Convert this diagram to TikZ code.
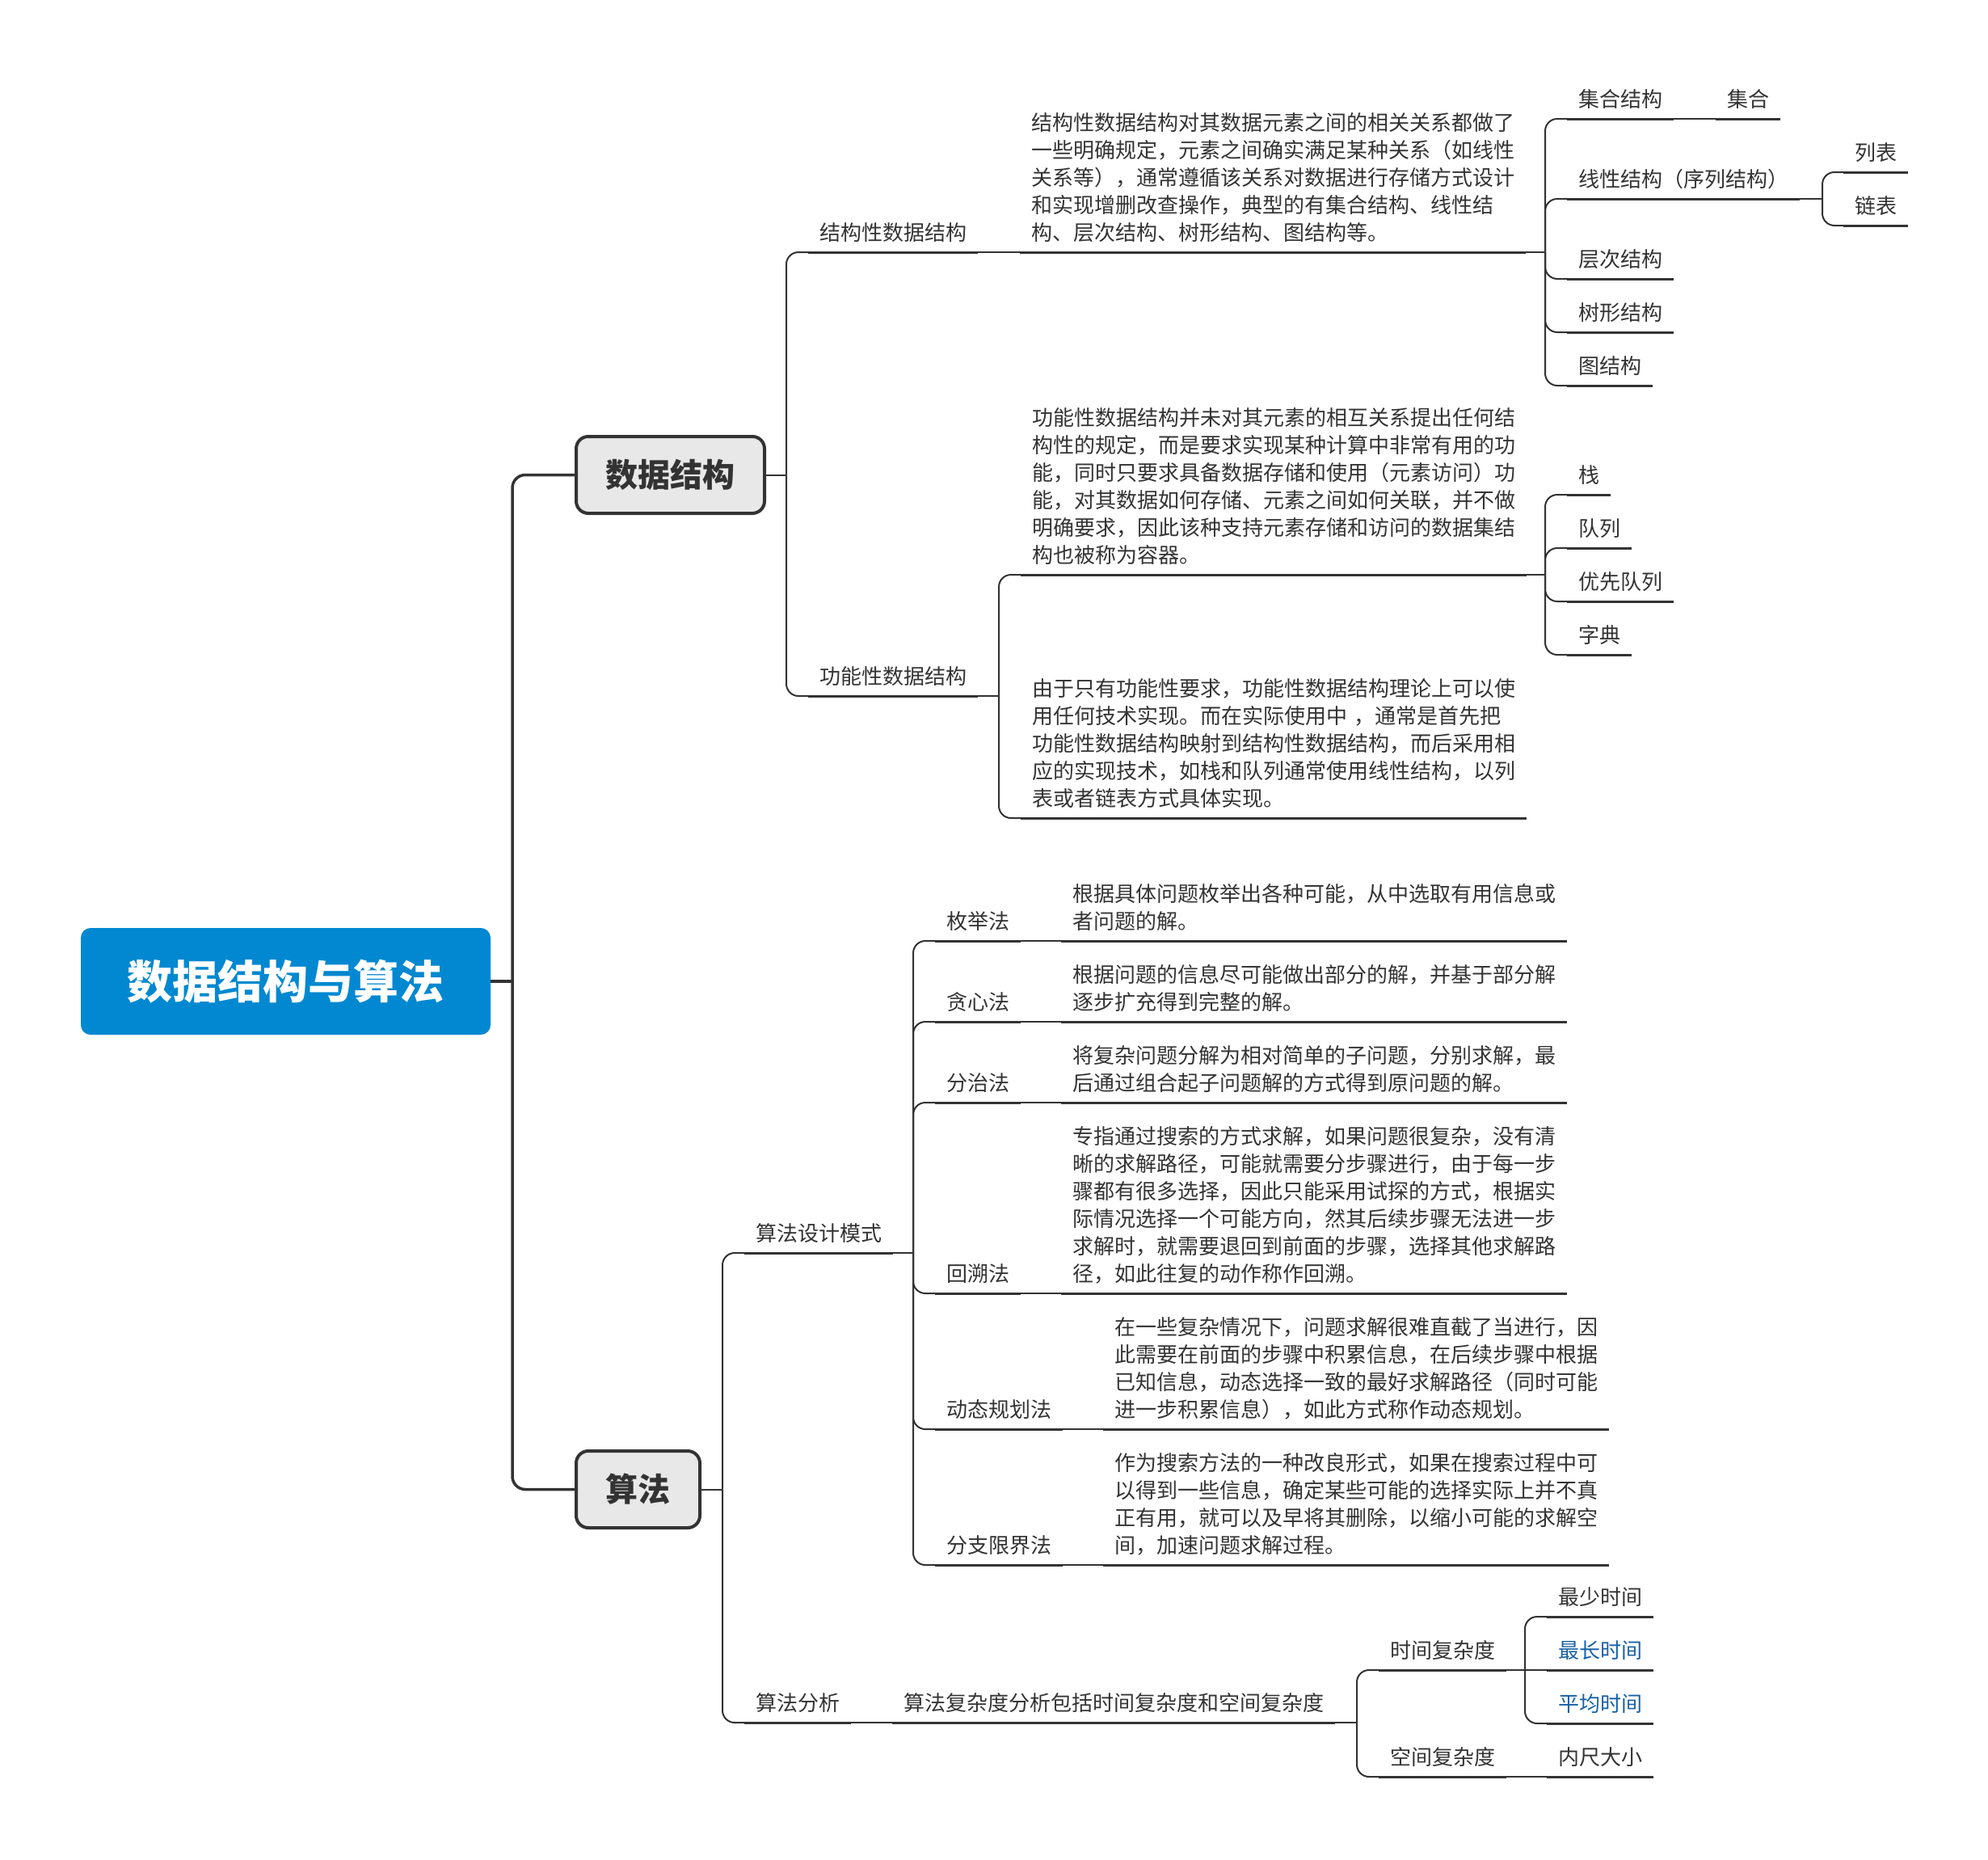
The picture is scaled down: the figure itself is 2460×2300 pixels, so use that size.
\documentclass[tikz,border=0pt]{standalone}
\usepackage{fontspec}
\setmainfont{Noto Sans CJK SC}
\definecolor{txt}{HTML}{333333}
\definecolor{lc}{HTML}{333333}
\definecolor{rootblue}{HTML}{0288D1}
\definecolor{boxgray}{HTML}{E8E8E8}
\definecolor{linkblue}{RGB}{23,96,165}
\newcommand\mydp{\rule[-15pt]{0pt}{15pt}}
\begin{document}
\begin{tikzpicture}[x=1pt,y=-1pt,
  base/.style={font=\fontsize{26}{34}\selectfont, text=txt, inner xsep=14pt, inner ysep=0pt, outer sep=0pt, anchor=south west},
  topic/.style={base, text height=22pt, text depth=15pt},
  desc/.style={base, text width=598pt, align=left},
  uline/.style={draw=lc, line width=3pt},
  conn/.style={draw=lc, line width=2pt, rounded corners=15pt},
  trunkline/.style={draw=lc, line width=3.5pt, rounded corners=16pt},
  rootbox/.style={rectangle, fill=rootblue, rounded corners=12pt, minimum width=507pt, minimum height=132pt, inner sep=0pt, text=white, font=\fontsize{56}{60}\selectfont\bfseries},
  mainbox/.style={rectangle, fill=boxgray, draw=lc, line width=4pt, rounded corners=15pt, minimum height=95pt, inner sep=0pt, text=txt, font=\fontsize{40}{44}\selectfont\bfseries}]
\useasboundingbox (0,0) rectangle (2460,2300);

% root and main topics
\node[rootbox] (root) at (353.5,1214) {数据结构与算法};
\node[mainbox, minimum width=233pt] (ds) at (829.5,587.5) {数据结构};
\node[mainbox, minimum width=153pt] (alg) at (789.5,1842.5) {算法};

% ---------- data structure subtree
\node[topic] (gs) at (1000,312) {结构性数据结构};
\node[desc] (gsd) at (1262,312) {结构性数据结构对其数据元素之间的相关关系都做了\\一些明确规定，元素之间确实满足某种关系（如线性\\关系等），通常遵循该关系对数据进行存储方式设计\\和实现增删改查操作，典型的有集合结构、线性结\\构、层次结构、树形结构、图结构等。\mydp};
\node[topic] (hj) at (1939,147) {集合结构};
\node[topic] (hjs) at (2123,147) {集合};
\node[topic] (xx) at (1939,246) {线性结构（序列结构）};
\node[topic] (lb) at (2281,213) {列表};
\node[topic] (lt) at (2281,279) {链表};
\node[topic] (cc) at (1939,345) {层次结构};
\node[topic] (sx) at (1939,411) {树形结构};
\node[topic] (tj) at (1939,477) {图结构};

\node[topic] (gn) at (1000,861) {功能性数据结构};
\node[desc] (gnd1) at (1263,711) {功能性数据结构并未对其元素的相互关系提出任何结\\构性的规定，而是要求实现某种计算中非常有用的功\\能，同时只要求具备数据存储和使用（元素访问）功\\能，对其数据如何存储、元素之间如何关联，并不做\\明确要求，因此该种支持元素存储和访问的数据集结\\构也被称为容器。\mydp};
\node[desc] (gnd2) at (1263,1012) {由于只有功能性要求，功能性数据结构理论上可以使\\用任何技术实现。而在实际使用中 ，通常是首先把\\功能性数据结构映射到结构性数据结构，而后采用相\\应的实现技术，如栈和队列通常使用线性结构，以列\\表或者链表方式具体实现。\mydp};
\node[topic] (zh) at (1939,612) {栈};
\node[topic] (dl) at (1939,678) {队列};
\node[topic] (yx) at (1939,744) {优先队列};
\node[topic] (zd) at (1939,810) {字典};

% ---------- algorithm subtree
\node[topic] (sj) at (921,1550) {算法设计模式};
\node[topic] (mj) at (1157,1164) {枚举法};
\node[desc] (mjd) at (1313,1164) {根据具体问题枚举出各种可能，从中选取有用信息或\\者问题的解。\mydp};
\node[topic] (tx) at (1157,1264) {贪心法};
\node[desc] (txd) at (1313,1264) {根据问题的信息尽可能做出部分的解，并基于部分解\\逐步扩充得到完整的解。\mydp};
\node[topic] (fz) at (1157,1364) {分治法};
\node[desc] (fzd) at (1313,1364) {将复杂问题分解为相对简单的子问题，分别求解，最\\后通过组合起子问题解的方式得到原问题的解。\mydp};
\node[topic] (hs) at (1157,1600) {回溯法};
\node[desc] (hsd) at (1313,1600) {专指通过搜索的方式求解，如果问题很复杂，没有清\\晰的求解路径，可能就需要分步骤进行，由于每一步\\骤都有很多选择，因此只能采用试探的方式，根据实\\际情况选择一个可能方向，然其后续步骤无法进一步\\求解时，就需要退回到前面的步骤，选择其他求解路\\径，如此往复的动作称作回溯。\mydp};
\node[topic] (dt) at (1157,1768) {动态规划法};
\node[desc] (dtd) at (1365,1768) {在一些复杂情况下，问题求解很难直截了当进行，因\\此需要在前面的步骤中积累信息，在后续步骤中根据\\已知信息，动态选择一致的最好求解路径（同时可能\\进一步积累信息），如此方式称作动态规划。\mydp};
\node[topic] (fj) at (1157,1936) {分支限界法};
\node[desc] (fjd) at (1365,1936) {作为搜索方法的一种改良形式，如果在搜索过程中可\\以得到一些信息，确定某些可能的选择实际上并不真\\正有用，就可以及早将其删除，以缩小可能的求解空\\间，加速问题求解过程。\mydp};

\node[topic] (fx) at (921,2131) {算法分析};
\node[topic] (fxd) at (1104,2131) {算法复杂度分析包括时间复杂度和空间复杂度};
\node[topic] (sjfz) at (1706,2066) {时间复杂度};
\node[topic] (zs) at (1914,2000) {最少时间};
\node[topic, text=linkblue] (zc) at (1914,2066) {最长时间};
\node[topic, text=linkblue] (pj) at (1914,2132) {平均时间};
\node[topic] (kjfz) at (1706,2198) {空间复杂度};
\node[topic] (nc) at (1914,2198) {内尺大小};

% underlines
\foreach \n in {gs,gsd,hj,hjs,xx,lb,lt,cc,sx,tj,gn,gnd1,gnd2,zh,dl,yx,zd,
  sj,mj,mjd,tx,txd,fz,fzd,hs,hsd,dt,dtd,fj,fjd,fx,fxd,sjfz,zs,zc,pj,kjfz,nc}
  \draw[uline] (\n.south west) -- (\n.south east);

% trunk
\coordinate (j0) at (634,1214);
\draw[trunkline] (root.east) -- (j0);
\draw[trunkline] (j0) |- (ds.west);
\draw[trunkline] (j0) |- (alg.west);

% data structure connectors
\coordinate (jds) at (973,587.5);
\draw[conn] (ds.east) -- (jds);
\draw[conn] (jds) |- (gs.south west);
\draw[conn] (jds) |- (gn.south west);
\draw[conn] (gs.south east) -- (gsd.south west);
\coordinate (jgsd) at (1912,312);
\draw[conn] (gsd.south east) -- (jgsd);
\foreach \c in {hj,xx,cc,sx,tj} \draw[conn] (jgsd) |- (\c.south west);
\draw[conn] (hj.south east) -- (hjs.south west);
\coordinate (jxx) at (2255,246);
\draw[conn] (xx.south east) -- (jxx);
\foreach \c in {lb,lt} \draw[conn] (jxx) |- (\c.south west);

\coordinate (jgn) at (1236,861);
\draw[conn] (gn.south east) -- (jgn);
\foreach \c in {gnd1,gnd2} \draw[conn] (jgn) |- (\c.south west);
\coordinate (jgnd) at (1912,711);
\draw[conn] (gnd1.south east) -- (jgnd);
\foreach \c in {zh,dl,yx,zd} \draw[conn] (jgnd) |- (\c.south west);

% algorithm connectors
\coordinate (jalg) at (894,1842.5);
\draw[conn] (alg.east) -- (jalg);
\draw[conn] (jalg) |- (sj.south west);
\draw[conn] (jalg) |- (fx.south west);
\coordinate (jsj) at (1130,1550);
\draw[conn] (sj.south east) -- (jsj);
\foreach \c in {mj,tx,fz,hs,dt,fj} \draw[conn] (jsj) |- (\c.south west);
\draw[conn] (mj.south east) -- (mjd.south west);
\draw[conn] (tx.south east) -- (txd.south west);
\draw[conn] (fz.south east) -- (fzd.south west);
\draw[conn] (hs.south east) -- (hsd.south west);
\draw[conn] (dt.south east) -- (dtd.south west);
\draw[conn] (fj.south east) -- (fjd.south west);

\draw[conn] (fx.south east) -- (fxd.south west);
\coordinate (jfx) at (1679,2131);
\draw[conn] (fxd.south east) -- (jfx);
\draw[conn] (jfx) |- (sjfz.south west);
\draw[conn] (jfx) |- (kjfz.south west);
\coordinate (jsjfz) at (1887,2066);
\draw[conn] (sjfz.south east) -- (jsjfz);
\draw[conn] (jsjfz) |- (zs.south west);
\draw[conn] (jsjfz) -- (zc.south west);
\draw[conn] (jsjfz) |- (pj.south west);
\draw[conn] (kjfz.south east) -- (nc.south west);
\end{tikzpicture}
\end{document}
